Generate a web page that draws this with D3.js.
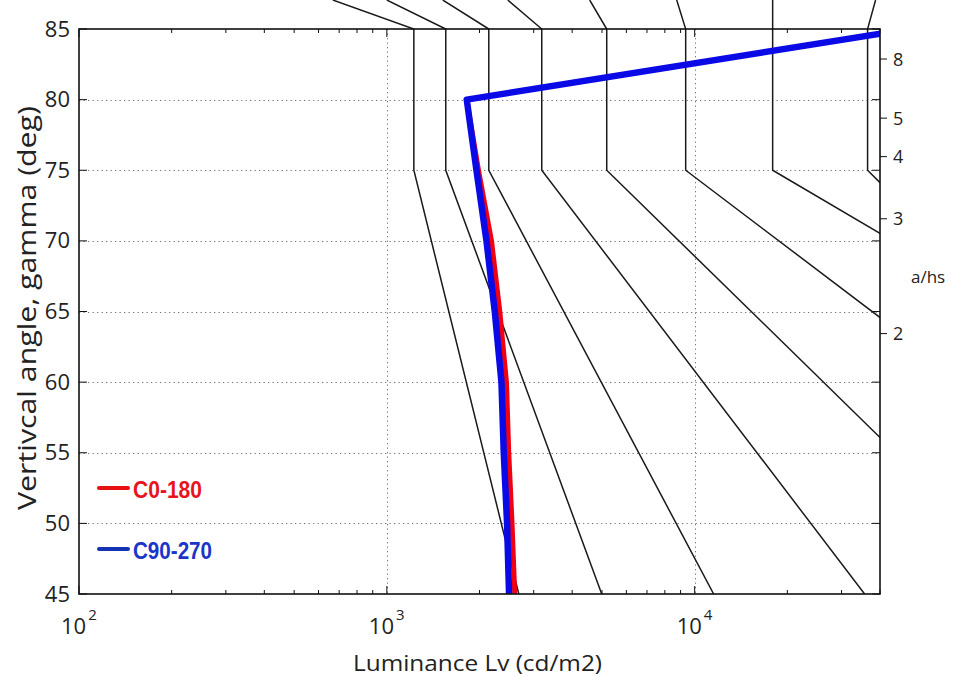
<!DOCTYPE html>
<html><head><meta charset="utf-8">
<script src="https://cdn.jsdelivr.net/npm/d3@7"></script>
<style>body{margin:0;background:#fff}</style>
</head><body><svg id="c" width="953" height="677"></svg>
<script>
// ---- data ----
const gammaTicks = [45, 50, 55, 60, 65, 70, 75, 80, 85];
const gammaGrid = [50, 55, 60, 65, 70, 75, 80];
const lumDecades = [100, 1000, 10000];
const lumDecadeExp = ["2", "3", "4"];
const ahsTicks = [2, 3, 4, 5, 8];

const gammaC0 = [45, 50, 55, 60, 65, 70, 75, 80, 85];
const lumC0 = [2603, 2551, 2489, 2447, 2328, 2188, 1985, 1818, 50000];
const gammaC90 = [45, 50, 55, 60, 65, 70, 75, 80, 85];
const lumC90 = [2495, 2458, 2398, 2357, 2242, 2107, 1955, 1818, 50000];

// glare limiting curves (luminance at the gammas below)
const limitGamma = [87.05, 85, 75, 45];
const limitLum = [
  [668, 1224, 1224, 2683],
  [1000, 1554, 1554, 4990],
  [1520, 2144, 2144, 11527],
  [2471, 3186, 3186, 35650],
  [4560, 5180, 5180, 132500],
  [8743, 9350, 9350, 613500],
  [17920, 17920, 17920, 3890000],
  [38700, 36450, 36450, 867000]
];
const seriesNames = ["C0-180", "C90-270"];

// ---- layout ----
const L = 79, R = 880, T = 29, B = 594;
const svg = d3.select("#c");
const x = d3.scaleLog().domain([100, 40000]).range([L, R]);
const y = d3.scaleLinear().domain([45, 85]).range([B, T]);
const tickFont = "'Open Sans', 'Noto Sans', sans-serif";

svg.append("defs").append("clipPath").attr("id", "clip")
  .append("rect").attr("x", L).attr("y", -200).attr("width", R - L).attr("height", B + 200);
svg.append("defs").append("clipPath").attr("id", "clip2")
  .append("rect").attr("x", L).attr("y", T).attr("width", R - L).attr("height", B - T);

// grid
const grid = svg.append("g").attr("stroke", "#777").attr("stroke-width", 1).attr("stroke-dasharray", "1.3,3.2");
grid.selectAll(".gy").data(gammaGrid).join("line")
  .attr("x1", L).attr("x2", R).attr("y1", d => Math.round(y(d)) + 0.5).attr("y2", d => Math.round(y(d)) + 0.5);
grid.selectAll(".gx").data(lumDecades.slice(1)).join("line")
  .attr("y1", T).attr("y2", B).attr("x1", d => Math.round(x(d)) + 0.5).attr("x2", d => Math.round(x(d)) + 0.5);

// limit curves
const line = d3.line().x(d => x(d[0])).y(d => y(d[1]));
svg.append("g").attr("clip-path", "url(#clip)")
  .selectAll("path").data(limitLum).join("path")
  .attr("d", lums => line(lums.map((v, i) => [v, limitGamma[i]])))
  .attr("fill", "none").attr("stroke", "#1a1a1a").attr("stroke-width", 1.5);

// series
const sg = svg.append("g").attr("clip-path", "url(#clip2)");
sg.append("path").attr("d", line(lumC0.map((v, i) => [v, gammaC0[i]])))
  .attr("fill", "none").attr("stroke", "#f00010").attr("stroke-width", 5).attr("stroke-linejoin", "round");
sg.append("path").attr("d", line(lumC90.map((v, i) => [v, gammaC90[i]])))
  .attr("fill", "none").attr("stroke", "#0a0ae6").attr("stroke-width", 6.5).attr("stroke-linejoin", "round");

// frame
svg.append("rect").attr("x", L).attr("y", T).attr("width", R - L).attr("height", B - T)
  .attr("fill", "none").attr("stroke", "#111").attr("stroke-width", 1.6);

// x ticks (inward, top and bottom)
const minor = [];
[100, 1000, 10000].forEach(dec => { for (let k = 2; k <= 9; k++) if (dec * k <= 40000) minor.push(dec * k); });
const tk = svg.append("g").attr("stroke", "#111").attr("stroke-width", 1);
tk.selectAll(".mb").data(minor).join("line")
  .attr("x1", d => x(d)).attr("x2", d => x(d)).attr("y1", B).attr("y2", B - 4);
tk.selectAll(".mt").data(minor).join("line")
  .attr("x1", d => x(d)).attr("x2", d => x(d)).attr("y1", T).attr("y2", T + 4);
tk.selectAll(".Mb").data(lumDecades).join("line")
  .attr("x1", d => x(d)).attr("x2", d => x(d)).attr("y1", B).attr("y2", B - 8);
tk.selectAll(".Mt").data(lumDecades).join("line")
  .attr("x1", d => x(d)).attr("x2", d => x(d)).attr("y1", T).attr("y2", T + 8);
// y ticks inward both sides
tk.selectAll(".yl").data(gammaTicks).join("line")
  .attr("x1", L).attr("x2", L + 8).attr("y1", d => y(d)).attr("y2", d => y(d));
tk.selectAll(".yr").data(gammaTicks).join("line")
  .attr("x1", R).attr("x2", R - 8).attr("y1", d => y(d)).attr("y2", d => y(d));
// right a/hs ticks outward
tk.selectAll(".ar").data(ahsTicks).join("line")
  .attr("x1", R).attr("x2", R + 7)
  .attr("y1", d => y(Math.atan(d) * 180 / Math.PI)).attr("y2", d => y(Math.atan(d) * 180 / Math.PI));

// y tick labels
svg.append("g").selectAll("text").data(gammaTicks).join("text")
  .attr("x", 70).attr("y", d => y(d) + 7.5).attr("text-anchor", "end")
  .attr("font-family", tickFont).attr("font-size", 22).attr("fill", "#222").text(d => d);

// x tick labels with superscript
const xl = svg.append("g").selectAll("text").data(lumDecades).join("text")
  .attr("x", d => x(d) - 18).attr("y", 634)
  .attr("font-family", tickFont).attr("font-size", 22).attr("fill", "#222");
xl.append("tspan").text("10");
xl.append("tspan").attr("dx", 2).attr("dy", -14).attr("font-size", 15).text((d, i) => lumDecadeExp[i]);

// right a/hs labels
svg.append("g").selectAll("text").data(ahsTicks).join("text")
  .attr("x", 893).attr("y", d => y(Math.atan(d) * 180 / Math.PI) + 6.5)
  .attr("font-family", tickFont).attr("font-size", 18).attr("fill", "#222").text(d => d);
svg.append("text").attr("x", 911).attr("y", 283)
  .attr("font-family", tickFont).attr("font-size", 17).attr("fill", "#222").text("a/hs");

// axis titles
svg.append("text").attr("x", 353).attr("y", 671)
  .attr("textLength", 249).attr("lengthAdjust", "spacingAndGlyphs")
  .attr("font-family", tickFont).attr("font-size", 22).attr("fill", "#222").text("Luminance Lv (cd/m2)");
svg.append("text").attr("transform", "translate(36,510) rotate(-90)")
  .attr("textLength", 404).attr("lengthAdjust", "spacingAndGlyphs")
  .attr("font-family", tickFont).attr("font-size", 25).attr("fill", "#222").text("Vertivcal angle, gamma (deg)");

// legend
const legColors = ["#e8141c", "#1a35c8"];
const legLine = ["#e81010", "#1432b4"];
const legWidth = [69, 79];
const leg = svg.append("g");
seriesNames.forEach((nm, i) => {
  const yy = 488 + i * 61;
  leg.append("line").attr("x1", 99).attr("x2", 128).attr("y1", yy).attr("y2", yy)
    .attr("stroke", legLine[i]).attr("stroke-width", 4).attr("stroke-linecap", "round");
  leg.append("text").attr("x", 133).attr("y", yy + 10)
    .attr("textLength", legWidth[i]).attr("lengthAdjust", "spacingAndGlyphs")
    .attr("font-family", "'Liberation Sans', Arial, sans-serif")
    .attr("font-weight", "bold").attr("font-size", 24).attr("fill", legColors[i]).text(nm);
});
</script></body></html>
